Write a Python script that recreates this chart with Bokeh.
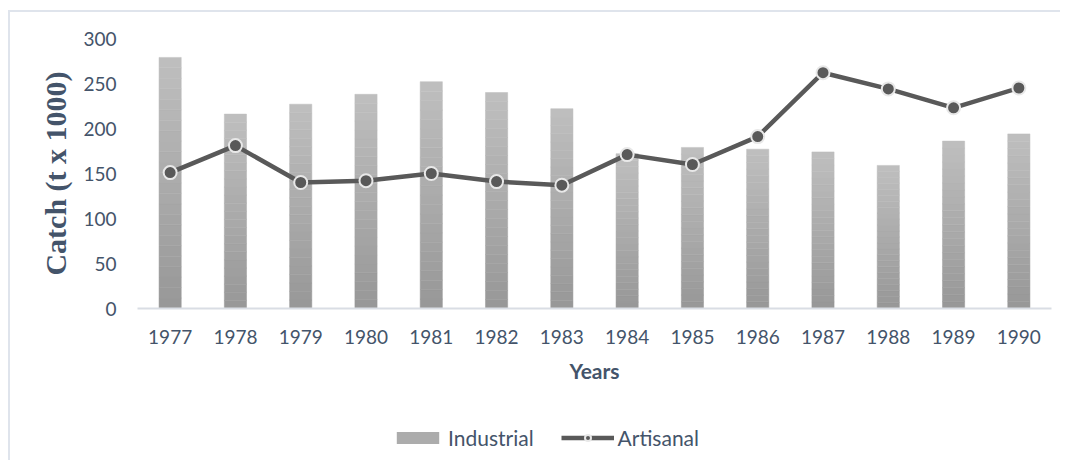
from bokeh.plotting import figure
from bokeh.layouts import column
from bokeh.models import FactorRange, Range1d, ColumnDataSource, Legend, LegendItem, FixedTicker
from bokeh.embed import file_html
from bokeh.resources import INLINE

years = ["1977", "1978", "1979", "1980", "1981", "1982", "1983",
         "1984", "1985", "1986", "1987", "1988", "1989", "1990"]
industrial = [279, 216, 227, 238, 252, 240, 222, 172, 179, 177, 174, 159, 186, 194]
artisanal = [151, 181, 140, 142, 150, 141, 137, 171, 160, 191, 262, 244, 223, 245]
y_ticks = [0, 50, 100, 150, 200, 250, 300]

TEXT = "#44546A"
BAR = "#acacac"
LINE = "#595959"
src = ColumnDataSource(dict(years=years, industrial=industrial, artisanal=artisanal))
xr = FactorRange(*years)

p = figure(x_range=xr, y_range=Range1d(0, 300),
           width=1050, height=380, output_backend="svg", toolbar_location=None,
           min_border_left=127, min_border_right=9, min_border_top=26, min_border_bottom=84)
p.outline_line_color = None
p.xgrid.grid_line_color = None
p.ygrid.grid_line_color = None

# bars with a vertical grey gradient (light at top, darker at bottom), built as bands
N = 24
c_top, c_bot = (0xbe, 0xbe, 0xbe), (0x98, 0x98, 0x98)
for k in range(N):
    f = k / (N - 1)
    col = "#%02x%02x%02x" % tuple(round(b + (t - b) * f) for t, b in zip(c_top, c_bot))
    p.vbar(x=years, bottom=[v * k / N for v in industrial],
           top=[v * (k + 1) / N for v in industrial],
           width=0.34, fill_color=col, line_color=col, line_width=0.5)

p.line(x="years", y="artisanal", source=src, line_color=LINE, line_width=4.5)
p.scatter(x="years", y="artisanal", source=src, size=13, fill_color=LINE,
          line_color="#e8e8e8", line_width=2)

p.yaxis.ticker = FixedTicker(ticks=y_ticks)
p.yaxis.axis_line_color = None
p.yaxis.major_tick_line_color = None
p.yaxis.minor_tick_line_color = None
p.yaxis.major_label_text_font = "Lato"
p.yaxis.major_label_text_font_size = "19px"
p.yaxis.major_label_text_color = TEXT
p.yaxis.major_label_standoff = 15
p.yaxis.axis_label = "Catch (t x 1000)"
p.yaxis.axis_label_text_font = "Liberation Serif"
p.yaxis.axis_label_text_font_style = "bold"
p.yaxis.axis_label_text_font_size = "30px"
p.yaxis.axis_label_text_color = TEXT
p.yaxis.axis_label_standoff = 8

p.xaxis.axis_line_color = "#d9dde4"
p.xaxis.axis_line_width = 2
p.xaxis.major_tick_line_color = None
p.xaxis.minor_tick_line_color = None
p.xaxis.major_label_text_font = "Lato"
p.xaxis.major_label_text_font_size = "19px"
p.xaxis.major_label_text_color = TEXT
p.xaxis.major_label_standoff = 15
p.xaxis.axis_label = "Years"
p.xaxis.axis_label_text_font = "Lato"
p.xaxis.axis_label_text_font_style = "bold"
p.xaxis.axis_label_text_font_size = "21px"
p.xaxis.axis_label_text_color = TEXT
p.xaxis.axis_label_standoff = 11

# legend strip below the chart (its glyphs fall outside its own y-range)
lg = figure(x_range=xr, y_range=Range1d(1000, 1001), width=1050, height=68,
            output_backend="svg", toolbar_location=None,
            x_axis_location=None, y_axis_location=None, min_border=0)
lg.outline_line_color = None
lg.xgrid.grid_line_color = None
lg.ygrid.grid_line_color = None
b2 = lg.vbar(x="years", top="industrial", width=0.34, source=src, fill_color=BAR, line_color=None)
l2 = lg.line(x="years", y="artisanal", source=src, line_color=LINE, line_width=4.5)
s2 = lg.scatter(x="years", y="artisanal", source=src, size=13, fill_color=LINE,
                line_color="#e8e8e8", line_width=2)
legend = Legend(items=[LegendItem(label="Industrial", renderers=[b2]),
                       LegendItem(label="Artisanal", renderers=[l2, s2])],
                orientation="horizontal", location=(254, 10),
                label_text_font="Lato", label_text_font_size="21px",
                label_text_color=TEXT, glyph_width=53, glyph_height=15,
                spacing=27, label_standoff=4, border_line_color=None,
                background_fill_alpha=0, margin=0, padding=4)
lg.add_layout(legend, "center")

page = column(p, lg, spacing=0,
              styles={"border-width": "2px", "border-style": "solid none none solid",
                      "border-color": "#dfe4ec",
                      "margin-left": "8px", "margin-top": "10px"})

open("out.html", "w").write(file_html(page, INLINE))
